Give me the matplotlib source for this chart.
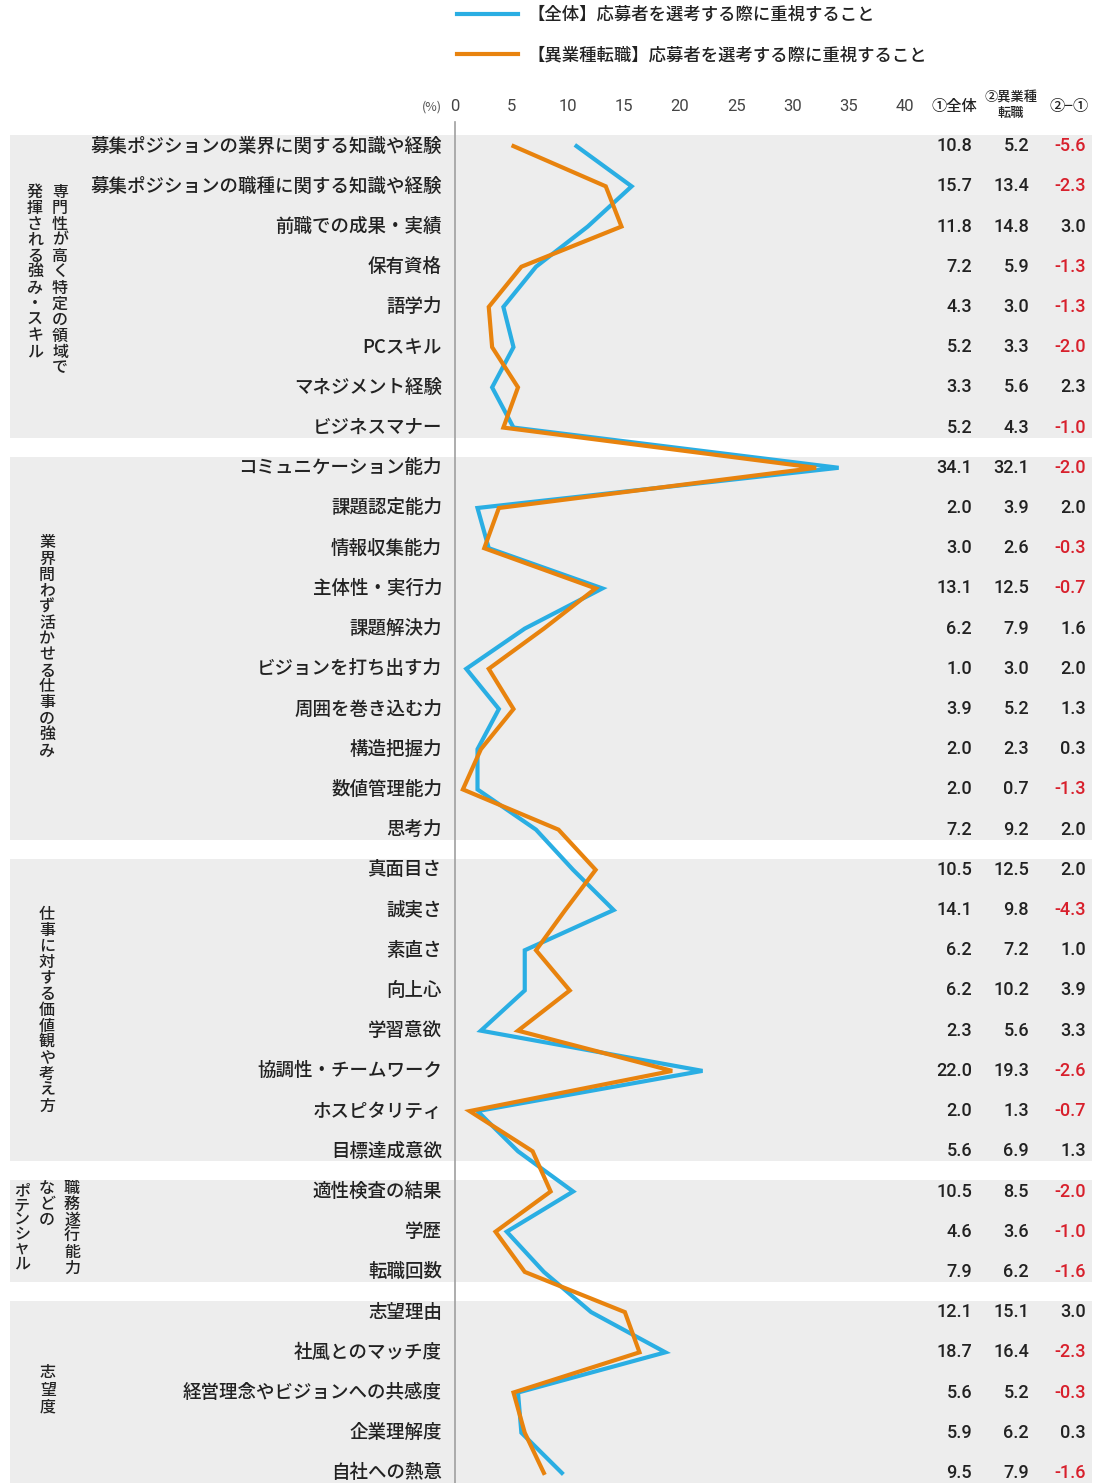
"""応募者を選考する際に重視すること: 全体 vs 異業種転職 の折れ線比較チャート."""

import matplotlib

matplotlib.use("Agg")
import matplotlib.pyplot as plt
from matplotlib import font_manager
from matplotlib.patches import Rectangle
from matplotlib.transforms import blended_transform_factory

plt.rcParams["font.family"] = ["Noto Sans CJK JP", "DejaVu Sans"]

# ---- data -----------------------------------------------------------------
items = [
    "募集ポジションの業界に関する知識や経験",
    "募集ポジションの職種に関する知識や経験",
    "前職での成果・実績",
    "保有資格",
    "語学力",
    "PCスキル",
    "マネジメント経験",
    "ビジネスマナー",
    "コミュニケーション能力",
    "課題認定能力",
    "情報収集能力",
    "主体性・実行力",
    "課題解決力",
    "ビジョンを打ち出す力",
    "周囲を巻き込む力",
    "構造把握力",
    "数値管理能力",
    "思考力",
    "真面目さ",
    "誠実さ",
    "素直さ",
    "向上心",
    "学習意欲",
    "協調性・チームワーク",
    "ホスピタリティ",
    "目標達成意欲",
    "適性検査の結果",
    "学歴",
    "転職回数",
    "志望理由",
    "社風とのマッチ度",
    "経営理念やビジョンへの共感度",
    "企業理解度",
    "自社への熱意",
]
overall = [10.8, 15.7, 11.8, 7.2, 4.3, 5.2, 3.3, 5.2,
           34.1, 2.0, 3.0, 13.1, 6.2, 1.0, 3.9, 2.0, 2.0, 7.2,
           10.5, 14.1, 6.2, 6.2, 2.3, 22.0, 2.0, 5.6,
           10.5, 4.6, 7.9,
           12.1, 18.7, 5.6, 5.9, 9.5]
career_change = [5.2, 13.4, 14.8, 5.9, 3.0, 3.3, 5.6, 4.3,
                 32.1, 3.9, 2.6, 12.5, 7.9, 3.0, 5.2, 2.3, 0.7, 9.2,
                 12.5, 9.8, 7.2, 10.2, 5.6, 19.3, 1.3, 6.9,
                 8.5, 3.6, 6.2,
                 15.1, 16.4, 5.2, 6.2, 7.9]
diff = [-5.6, -2.3, 3.0, -1.3, -1.3, -2.0, 2.3, -1.0,
        -2.0, 2.0, -0.3, -0.7, 1.6, 2.0, 1.3, 0.3, -1.3, 2.0,
        2.0, -4.3, 1.0, 3.9, 3.3, -2.6, -0.7, 1.3,
        -2.0, -1.0, -1.6,
        3.0, -2.3, -0.3, 0.3, -1.6]

# (最初の行, 最後の行)
groups = [(0, 7), (8, 17), (18, 25), (26, 28), (29, 33)]
x_ticks = [0, 5, 10, 15, 20, 25, 30, 35, 40]
legend_labels = [
    "【全体】応募者を選考する際に重視すること",
    "【異業種転職】応募者を選考する際に重視すること",
]

BLUE = "#2AAEE3"
ORANGE = "#E8830E"
RED = "#D8202C"
BAND = "#EDEDED"
TEXT = "#222222"

W, H = 1096, 1483
installed = {f.name for f in font_manager.fontManager.ttflist}
num_font = "Liberation Sans Narrow" if "Liberation Sans Narrow" in installed else "Roboto"
NUM_FAMILY = [num_font, "DejaVu Sans"]


def fx(px):
    return px / W


def fy(py):
    return 1 - py / H


fig = plt.figure(figsize=(W / 100, H / 100), dpi=100)
ax = fig.add_axes([fx(455), 0, fx(905) - fx(455), (H - 122) / H])
ax.patch.set_alpha(0)

rows = list(range(len(items)))
line_all, = ax.plot(overall, rows, color=BLUE, lw=3, zorder=3, solid_joinstyle="miter")
line_chg, = ax.plot(career_change, rows, color=ORANGE, lw=3, zorder=4, solid_joinstyle="miter")

ax.set_xlim(0, 40)
ax.set_ylim(33.25, -0.6)
ax.xaxis.tick_top()
ax.set_xticks(x_ticks)
ax.tick_params(axis="x", length=0, pad=6, labelsize=12, labelcolor="#444444")
for lab in ax.get_xticklabels():
    lab.set_fontfamily(NUM_FAMILY)
ax.set_yticks([])
for side in ["top", "right", "bottom"]:
    ax.spines[side].set_visible(False)
ax.spines["left"].set_color("#A0A0A0")
ax.spines["left"].set_linewidth(1.2)

trans = blended_transform_factory(fig.transFigure, ax.transData)

# グループ背景
for first, last in groups:
    ax.add_patch(Rectangle((fx(10), first - 0.28), fx(1092) - fx(10), last - first + 0.53,
                           transform=trans, facecolor=BAND, edgecolor="none",
                           clip_on=False, zorder=0))

# 項目名と数値
for i, name in enumerate(items):
    ax.text(fx(442), i, name, transform=trans, ha="right", va="center",
            fontsize=13.3, color=TEXT, weight="medium", clip_on=False)
    ax.text(fx(972), i, f"{overall[i]:.1f}", transform=trans, ha="right", va="center",
            fontsize=13, color=TEXT, family=NUM_FAMILY, weight="medium", clip_on=False)
    ax.text(fx(1029), i, f"{career_change[i]:.1f}", transform=trans, ha="right", va="center",
            fontsize=13, color=TEXT, family=NUM_FAMILY, weight="medium", clip_on=False)
    d_color = RED if diff[i] < 0 else TEXT
    ax.text(fx(1086), i, f"{diff[i]:.1f}", transform=trans, ha="right",
            va="center", fontsize=13, color=d_color, family=NUM_FAMILY, weight="medium",
            clip_on=False)

# 表ヘッダー
fig.text(fx(432), fy(107), "(%)", ha="center", va="center", fontsize=9, color="#555555")
fig.text(fx(954), fy(106), "①全体", ha="center", va="center", fontsize=11,
         color=TEXT, weight="medium")
fig.text(fx(1011), fy(105), "②異業種\n転職", ha="center", va="center", fontsize=9.5,
         color=TEXT, weight="medium", linespacing=1.1)
fig.text(fx(1069), fy(106), "②−①", ha="center", va="center", fontsize=11,
         color=TEXT, weight="medium")


# 縦書きのグループ名
def vtext(x_px, y_top_px, s, step=16.0, size=11.5):
    for k, ch in enumerate(s):
        fig.text(fx(x_px), fy(y_top_px + k * step), ch, ha="center", va="center",
                 fontsize=size, color=TEXT, weight="medium")


vtext(60, 192, "専門性が高く特定の領域で")
vtext(35, 192, "発揮される強み・スキル")
vtext(47, 543, "業界問わず活かせる仕事の強み")
vtext(47, 914, "仕事に対する価値観や考え方")
vtext(72, 1188, "職務遂行能力")
vtext(47, 1188, "などの")
vtext(22, 1191, "ポテンシャル", step=14.5)
vtext(48, 1373, "志望度", step=17)

# 凡例
leg = fig.legend([line_all, line_chg], legend_labels, loc="upper left",
                 bbox_to_anchor=(fx(457), fy(6)), frameon=False, fontsize=12.5,
                 handlelength=3.5, handletextpad=0.55, labelspacing=1.3,
                 borderpad=0, borderaxespad=0, labelcolor=TEXT)
for t in leg.get_texts():
    t.set_fontweight("medium")

fig.savefig("out.png", dpi=100, facecolor="white")
